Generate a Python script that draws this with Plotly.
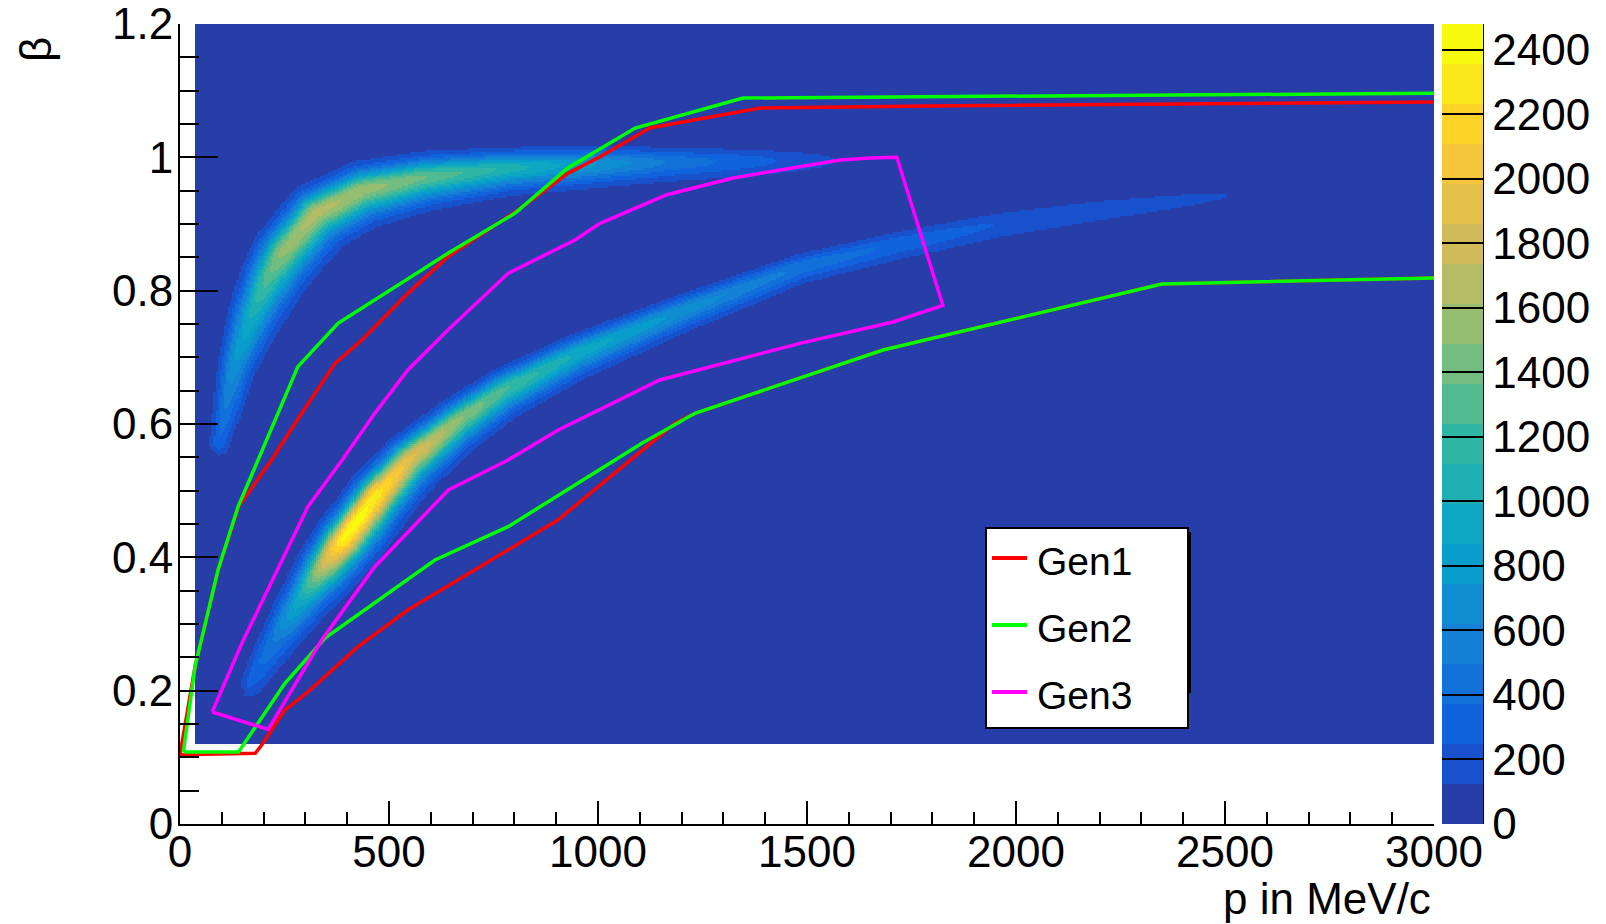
import numpy as np
import plotly.graph_objects as go

# ---------------- data ----------------
X_TICKS = [0, 500, 1000, 1500, 2000, 2500, 3000]
X_TICK_LABELS = ["0", "500", "1000", "1500", "2000", "2500", "3000"]
Y_TICKS = [0, 0.2, 0.4, 0.6, 0.8, 1.0, 1.2]
Y_TICK_LABELS = ["0", "0.2", "0.4", "0.6", "0.8", "1", "1.2"]
Z_TICKS = [0, 200, 400, 600, 800, 1000, 1200, 1400, 1600, 1800, 2000, 2200, 2400]
Z_TICK_LABELS = [str(v) for v in Z_TICKS]
Z_MAX = 2480
N_CONTOURS = 20

# filled region of the histogram
P_MIN_FILLED = 35.0
BETA_MIN_FILLED = 0.121
BACKGROUND_COUNT = 20

# upper band (light particles): ridge, peak counts, spread (beta units)
BAND1_P = [92, 130, 172, 210, 243, 323, 435, 586, 785, 1024, 1184, 1400, 1560]
BAND1_BETA = [0.571, 0.690, 0.766, 0.820, 0.856, 0.916, 0.951, 0.971, 0.984, 0.991, 0.993, 0.995, 0.996]
BAND1_PEAK = [300, 700, 1000, 1300, 1500, 1650, 1550, 1350, 1050, 680, 440, 250, 110]
BAND1_SPREAD = [0.009, 0.013, 0.017, 0.019, 0.02, 0.02, 0.019, 0.017, 0.0145, 0.0135, 0.0125, 0.0115, 0.0105]

# lower band (protons)
BAND2_P = [167, 230, 292, 340, 388, 430, 466, 545, 665, 770, 945, 1184, 1483, 1722, 1962, 2200, 2440, 2550]
BAND2_BETA = [0.211, 0.280, 0.341, 0.385, 0.426, 0.460, 0.491, 0.546, 0.606, 0.650, 0.705, 0.766, 0.836, 0.871, 0.901, 0.922, 0.939, 0.945]
BAND2_PEAK = [250, 500, 1000, 1700, 2350, 2400, 2300, 1900, 1500, 1250, 950, 700, 450, 320, 220, 170, 125, 90]
BAND2_SPREAD = [0.011, 0.014, 0.016, 0.0175, 0.018, 0.018, 0.018, 0.0172, 0.0158, 0.015, 0.014, 0.0125, 0.011, 0.0115, 0.012, 0.012, 0.0105, 0.0075]

# graphical cuts
GEN1_P = [0, 180, 195, 251, 306, 426, 545, 706, 904, 1184, 1232, 1682, 2349, 3200,
          3200, 1787, 1388, 1124, 1005, 928, 809, 641, 545, 435, 371, 291, 219, 140, 91, 36, 0]
GEN1_BETA = [0.104, 0.106, 0.118, 0.171, 0.198, 0.266, 0.321, 0.381, 0.456, 0.601, 0.616, 0.711, 0.810, 0.822,
             1.084, 1.077, 1.074, 1.044, 1.001, 0.976, 0.921, 0.851, 0.796, 0.726, 0.691, 0.616, 0.546, 0.476, 0.381, 0.236, 0.104]

GEN2_P = [8, 140, 251, 347, 610, 785, 1105, 1232, 1682, 2349, 3200,
          3200, 1347, 1089, 928, 801, 641, 466, 378, 282, 139, 91, 36, 8]
GEN2_BETA = [0.108, 0.108, 0.211, 0.279, 0.396, 0.446, 0.571, 0.616, 0.711, 0.810, 0.822,
             1.097, 1.089, 1.044, 0.984, 0.916, 0.856, 0.786, 0.751, 0.686, 0.476, 0.381, 0.236, 0.108]

GEN3_P = [77, 211, 339, 466, 642, 785, 905, 1148, 1483, 1706, 1825,
          1715, 1651, 1579, 1483, 1323, 1165, 1005, 945, 785, 641, 545, 466, 388, 306, 220, 148, 77]
GEN3_BETA = [0.168, 0.142, 0.276, 0.386, 0.501, 0.546, 0.591, 0.666, 0.721, 0.753, 0.778,
             1.000, 0.999, 0.996, 0.986, 0.969, 0.944, 0.901, 0.876, 0.826, 0.741, 0.681, 0.616, 0.546, 0.476, 0.366, 0.271, 0.168]

SERIES_NAMES = ["Gen1", "Gen2", "Gen3"]

# ---------------- styling / layout ----------------
W, H = 1606, 924
PL, PR, PT, PB = 180, 1434, 24, 824          # plot area in pixels
FONT = "Liberation Sans, Arial, Helvetica, sans-serif"
COLORS = ["#ff0000", "#00ff00", "#ff00ff"]
LOW_SIDE = 1.35
NX, NY = 600, 400

# ROOT kBird palette
BIRD_STOPS = [0.0, 0.125, 0.25, 0.375, 0.5, 0.625, 0.75, 0.875, 1.0]
BIRD_R = [0.2082, 0.0592, 0.0780, 0.0232, 0.1802, 0.5301, 0.8186, 0.9956, 0.9764]
BIRD_G = [0.1664, 0.3599, 0.5041, 0.6419, 0.7178, 0.7492, 0.7328, 0.7862, 0.9832]
BIRD_B = [0.5293, 0.8684, 0.8385, 0.7914, 0.6425, 0.4662, 0.3499, 0.1968, 0.0539]


def bird(t):
    r = np.interp(t, BIRD_STOPS, BIRD_R)
    g = np.interp(t, BIRD_STOPS, BIRD_G)
    b = np.interp(t, BIRD_STOPS, BIRD_B)
    return "rgb(%d,%d,%d)" % (round(r * 255), round(g * 255), round(b * 255))


colorscale = []
for i in range(N_CONTOURS):
    idx = int((i + 0.99) * 255 / N_CONTOURS)
    c = bird(min(idx, 254) / 254.0)
    colorscale.append([i / N_CONTOURS, c])
    colorscale.append([(i + 1) / N_CONTOURS, c])

# histogram grid
P_MAX, B_MAX = 3000.0, 1.2
p_c = (np.arange(NX) + 0.5) * P_MAX / NX
b_c = (np.arange(NY) + 0.5) * B_MAX / NY
PP, BB = np.meshgrid(p_c, b_c)
U_SCALE = ((PR - PL) / P_MAX) / ((PB - PT) / B_MAX)   # MeV -> beta units (equal screen metric)


def band_density(p_pts, b_pts, peaks, spreads):
    u = np.asarray(p_pts, float) * U_SCALE
    v = np.asarray(b_pts, float)
    A = np.asarray(peaks, float)
    S = np.asarray(spreads, float)
    X = PP * U_SCALE
    Y = BB
    out = np.zeros_like(X)
    for k in range(len(u) - 1):
        dx, dy = u[k + 1] - u[k], v[k + 1] - v[k]
        L2 = dx * dx + dy * dy
        t = np.clip(((X - u[k]) * dx + (Y - v[k]) * dy) / L2, 0, 1)
        cx = u[k] + t * dx
        cy = v[k] + t * dy
        d2 = (X - cx) ** 2 + (Y - cy) ** 2
        cross = dx * (Y - v[k]) - dy * (X - u[k])
        a = A[k] + t * (A[k + 1] - A[k])
        s = S[k] + t * (S[k + 1] - S[k])
        s = np.where(cross > 0, s, s * LOW_SIDE)
        out = np.maximum(out, a * np.exp(-d2 / (2 * s * s)))
    return out


z = BACKGROUND_COUNT + band_density(BAND1_P, BAND1_BETA, BAND1_PEAK, BAND1_SPREAD) \
    + band_density(BAND2_P, BAND2_BETA, BAND2_PEAK, BAND2_SPREAD)
z = np.minimum(np.round(z), Z_MAX - 1)
mask = (PP < P_MIN_FILLED) | (BB < BETA_MIN_FILLED)
zlist = [[None if m else int(v) for v, m in zip(row, mrow)] for row, mrow in zip(z, mask)]

fig = go.Figure()
fig.add_trace(go.Heatmap(
    x=p_c, y=b_c, z=zlist, zmin=0, zmax=Z_MAX, colorscale=colorscale,
    hoverinfo="skip",
    colorbar=dict(
        x=(1442 - PL) / (PR - PL), xanchor="left", xpad=0,
        y=0, yanchor="bottom", ypad=0, len=1, lenmode="fraction",
        thickness=41, outlinewidth=0,
        tickmode="array", tickvals=Z_TICKS, ticktext=Z_TICK_LABELS,
        ticks="inside", ticklen=41, tickwidth=2, tickcolor="black",
        tickfont=dict(family=FONT, size=44, color="black"),
        ticklabeloverflow="allow",
    ),
))

for name, px_, bx_, col in zip(SERIES_NAMES, [GEN1_P, GEN2_P, GEN3_P],
                               [GEN1_BETA, GEN2_BETA, GEN3_BETA], COLORS):
    fig.add_trace(go.Scatter(x=px_, y=bx_, mode="lines", name=name,
                             line=dict(color=col, width=3.5), showlegend=False,
                             hoverinfo="skip"))


def xp(X):
    return (X - PL) / (PR - PL)


def yp(Y):
    return (PB - Y) / (PB - PT)


shapes = []
# colorbar axis line
shapes.append(dict(type="line", xref="paper", yref="paper", x0=xp(1483), x1=xp(1483),
                   y0=0, y1=1, line=dict(color="black", width=2)))
# y-axis top major tick (1.2)
# legend box
LEG = dict(x0=986, x1=1188, y0=528, y1=728)
shapes.append(dict(type="rect", xref="paper", yref="paper", x0=xp(LEG["x1"]), x1=xp(LEG["x1"] + 3),
                   y0=yp(693), y1=yp(532), fillcolor="black", line=dict(width=0)))
shapes.append(dict(type="rect", xref="paper", yref="paper", x0=xp(LEG["x0"]), x1=xp(LEG["x1"]),
                   y0=yp(LEG["y1"]), y1=yp(LEG["y0"]), fillcolor="white",
                   line=dict(color="black", width=2)))
entry_y = [558, 625, 692]
annotations = []
for name, col, ey in zip(SERIES_NAMES, COLORS, entry_y):
    shapes.append(dict(type="line", xref="paper", yref="paper", x0=xp(992), x1=xp(1027),
                       y0=yp(ey), y1=yp(ey), line=dict(color=col, width=4)))
    annotations.append(dict(text=name, xref="paper", yref="paper", x=xp(1035), y=yp(ey + 3),
                            xanchor="left", yanchor="middle", showarrow=False,
                            font=dict(family=FONT, size=39, color="black")))

annotations.append(dict(text="p in MeV/c", xref="paper", yref="paper", x=xp(1433), y=yp(898),
                        xanchor="right", yanchor="middle", showarrow=False,
                        font=dict(family=FONT, size=44, color="black")))
annotations.append(dict(text="β", xref="paper", yref="paper", x=xp(36), y=yp(50),
                        xanchor="center", yanchor="middle", showarrow=False, textangle=-90,
                        font=dict(family=FONT, size=44, color="black")))

fig.update_layout(
    width=W, height=H, autosize=False,
    margin=dict(l=PL, r=W - PR, t=PT, b=H - PB, pad=0, autoexpand=False),
    paper_bgcolor="white", plot_bgcolor="white",
    shapes=shapes, annotations=annotations, showlegend=False,
    xaxis=dict(range=[0, 3000], showgrid=False, zeroline=False,
               showline=True, linecolor="black", linewidth=2,
               tickmode="array", tickvals=X_TICKS, ticktext=X_TICK_LABELS,
               ticks="inside", ticklen=23, tickwidth=2, tickcolor="black",
               minor=dict(dtick=100, ticks="inside", ticklen=12, tickwidth=2, tickcolor="black"),
               tickfont=dict(family=FONT, size=44, color="black"), ticklabelstandoff=-12,
               ticklabeloverflow="allow"),
    yaxis=dict(range=[0, 1.20002], showgrid=False, zeroline=False,
               showline=True, linecolor="black", linewidth=2,
               tickmode="array", tickvals=Y_TICKS, ticktext=Y_TICK_LABELS,
               ticks="inside", ticklen=38, tickwidth=2, tickcolor="black",
               minor=dict(dtick=0.05, ticks="inside", ticklen=19, tickwidth=2, tickcolor="black"),
               tickfont=dict(family=FONT, size=44, color="black"), ticklabelstandoff=-4,
               ticklabeloverflow="allow"),
)

fig.write_html("out.html")
